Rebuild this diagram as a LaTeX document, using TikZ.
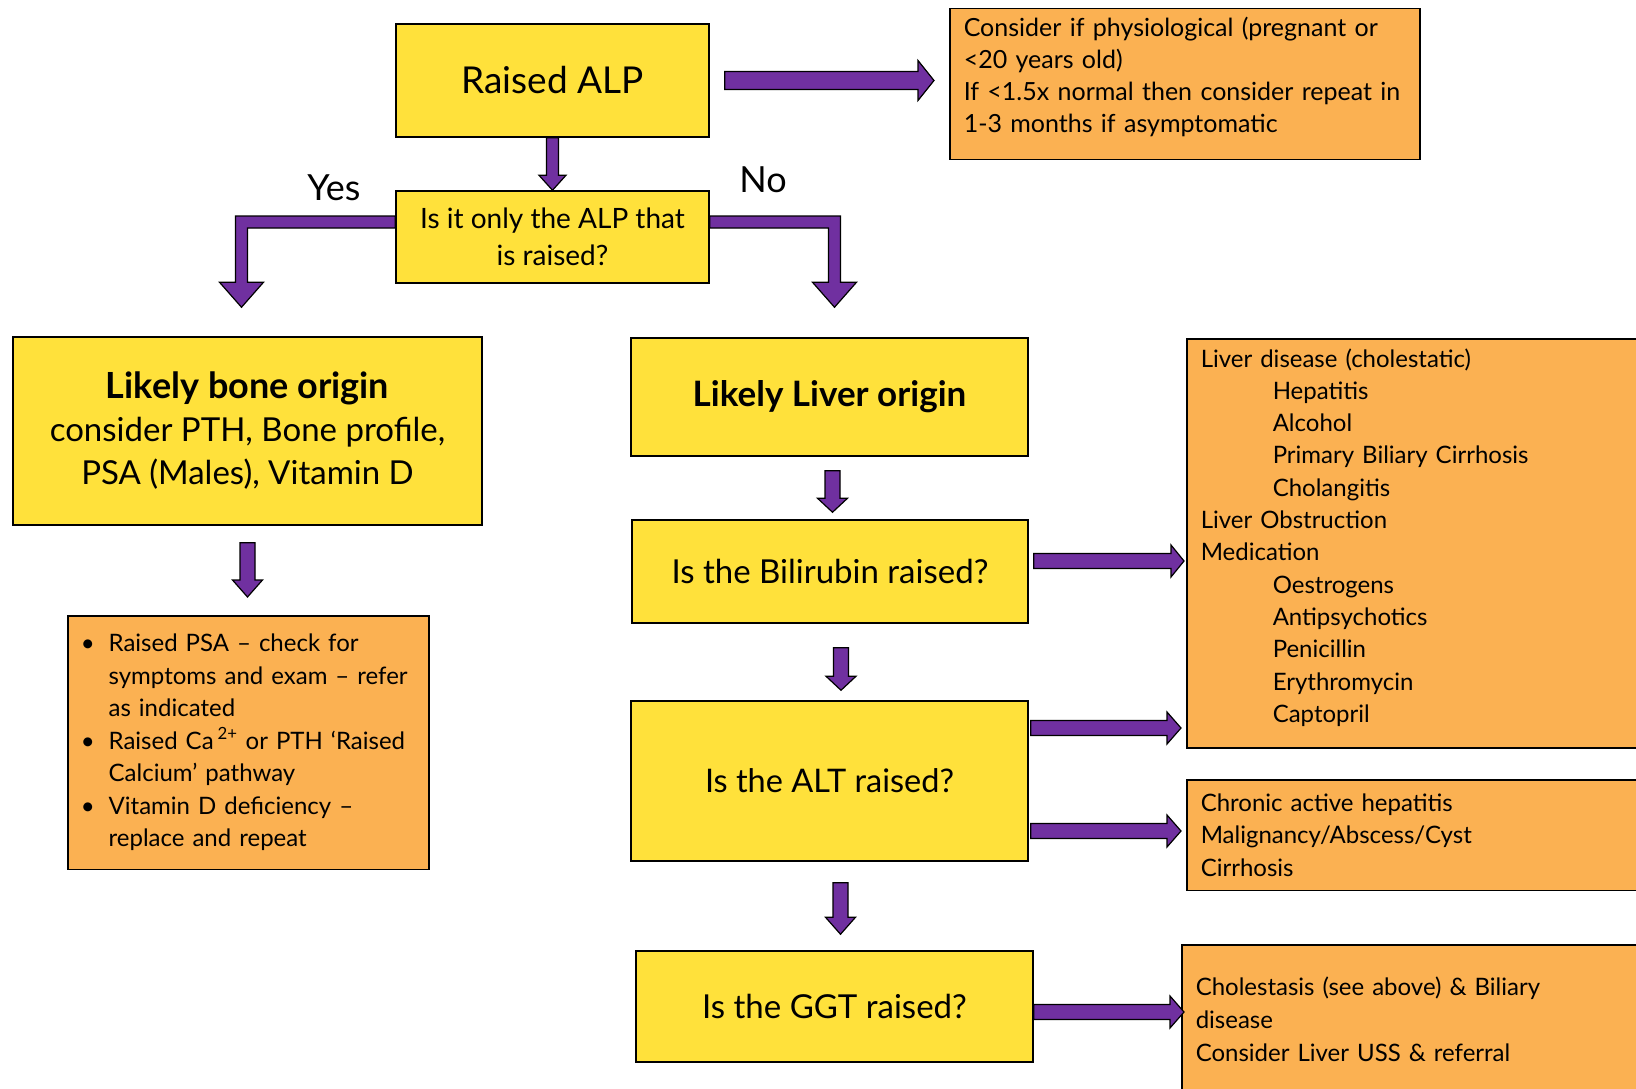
\documentclass[tikz,border=0pt]{standalone}
\usepackage{fontspec}
\setmainfont{Lato}
\usetikzlibrary{calc}
\usetikzlibrary{positioning}

\definecolor{boxyellow}{HTML}{FFE13B}
\definecolor{boxorange}{HTML}{FBB152}
\definecolor{arrowpurple}{HTML}{7030A0}

\tikzset{
    stepbox/.style={draw=black, line width=1.5pt, fill=boxyellow, align=center, inner sep=0pt},
    notebox/.style={draw=black, line width=1.5pt, fill=boxorange, align=left, anchor=north west, inner sep=14pt},
    blockarrow/.style={draw=black, line width=1.2pt, fill=arrowpurple, line join=miter},
}

% Block arrows: start, tip, half shaft, half head, head length
\newcommand{\rarrow}[5]{%
    \draw[blockarrow] let \p1=(#1), \p2=(#2) in
        (\x1,\y1+#3) -- (\x2-#5,\y1+#3) -- (\x2-#5,\y1+#4) -- (\x2,\y1)
        -- (\x2-#5,\y1-#4) -- (\x2-#5,\y1-#3) -- (\x1,\y1-#3) -- cycle;}
\newcommand{\darrow}[5]{%
    \draw[blockarrow] let \p1=(#1), \p2=(#2) in
        (\x1-#3,\y1) -- (\x1-#3,\y2+#5) -- (\x1-#4,\y2+#5) -- (\x1,\y2)
        -- (\x1+#4,\y2+#5) -- (\x1+#3,\y2+#5) -- (\x1+#3,\y1) -- cycle;}
% Elbow arrow: start, tip, side (-1 left, 1 right)
\newcommand{\earrow}[3]{%
    \draw[blockarrow] let \p1=(#1), \p2=(#2) in
        (\x1,\y1+6pt) -- ({\x2+(#3)*6pt},\y1+6pt) -- ({\x2+(#3)*6pt},\y2+25pt)
        -- ({\x2+(#3)*22pt},\y2+25pt) -- (\x2,\y2) -- ({\x2-(#3)*22pt},\y2+25pt)
        -- ({\x2-(#3)*6pt},\y2+25pt) -- ({\x2-(#3)*6pt},\y1-6pt) -- (\x1,\y1-6pt) -- cycle;}

\begin{document}
\begin{tikzpicture}[x=1pt, y=-1pt]
    \useasboundingbox (0,0) rectangle (1636,1089);
    \clip (0,0) rectangle (1636,1089);

    % Top
    \node[stepbox, minimum width=313pt, minimum height=113pt, font=\fontsize{37}{44}\selectfont]
        (alp) at (552.5,80.5) {Raised ALP};
    \node[notebox, inner ysep=4pt, minimum width=470pt, minimum height=151pt, text width=442pt, text depth=114pt,
        font=\fontsize{25}{32}\selectfont]
        (phys) at (949,8) {Consider if physiological (pregnant or\\
        <20 years old)\\
        If <1.5x normal then consider repeat in\\
        1-3 months if asymptomatic};
    \node[stepbox, minimum width=313pt, minimum height=92pt, font=\fontsize{28}{37}\selectfont]
        (only) at (552.5,237) {Is it only the ALP that\\is raised?};
    \node[font=\fontsize{36}{40}\selectfont] (yes) at (334,188) {Yes};
    \node[font=\fontsize{36}{40}\selectfont] (no) at (763,180) {No};

    % Bone side
    \node[stepbox, minimum width=469pt, minimum height=188pt, font=\fontsize{33}{43}\selectfont]
        (bone) at (247.5,431) {{\fontsize{36}{43}\selectfont\bfseries Likely bone origin}\\
        consider PTH, Bone profile,\\
        PSA (Males), Vitamin D};
    \node[notebox, inner sep=13pt, minimum width=361pt, minimum height=246pt, text width=335pt,
        font=\fontsize{24}{32.5}\selectfont] (bonelist) at (67,615) {%
        \begin{tabular}{@{}l@{\hspace{14pt}}l@{}}
            \textbullet & Raised PSA – check for\\
                        & symptoms and exam – refer\\
                        & as indicated\\
            \textbullet & Raised Ca\,\textsuperscript{2+} or PTH ‘Raised\\
                        & Calcium’ pathway\\
            \textbullet & Vitamin D deficiency –\\
                        & replace and repeat
        \end{tabular}};

    % Liver side
    \node[stepbox, minimum width=397pt, minimum height=118pt, font=\fontsize{35}{40}\selectfont\bfseries]
        (liver) at (829.5,397) {Likely Liver origin};
    \node[stepbox, minimum width=396pt, minimum height=103pt, font=\fontsize{33}{38}\selectfont]
        (bili) at (830,571.5) {Is the Bilirubin raised?};
    \node[stepbox, minimum width=397pt, minimum height=160pt, font=\fontsize{32.5}{38}\selectfont]
        (alt) at (829.5,781) {Is the ALT raised?};
    \node[stepbox, minimum width=397pt, minimum height=111pt, font=\fontsize{33}{38}\selectfont]
        (ggt) at (834.5,1006.5) {Is the GGT raised?};

    % Causes
    \node[notebox, inner ysep=4pt, minimum width=470pt, minimum height=409pt, text width=442pt, text depth=371pt,
        font=\fontsize{24}{32.3}\selectfont]
        (cholestatic) at (1186,338) {Liver disease (cholestatic)\\
        \hspace*{72pt}Hepatitis\\
        \hspace*{72pt}Alcohol\\
        \hspace*{72pt}Primary Biliary Cirrhosis\\
        \hspace*{72pt}Cholangitis\\
        Liver Obstruction\\
        Medication\\
        \hspace*{72pt}Oestrogens\\
        \hspace*{72pt}Antipsychotics\\
        \hspace*{72pt}Penicillin\\
        \hspace*{72pt}Erythromycin\\
        \hspace*{72pt}Captopril};
    \node[notebox, minimum width=470pt, minimum height=110pt, text width=442pt, font=\fontsize{24}{32.5}\selectfont]
        (hepatic) at (1186,779) {Chronic active hepatitis\\
        Malignancy/Abscess/Cyst\\
        Cirrhosis};
    \node[notebox, minimum width=475pt, minimum height=150pt, text width=447pt, font=\fontsize{24}{33}\selectfont]
        (biliary) at (1181,944) {Cholestasis (see above) \& Biliary\\
        disease\\
        Consider Liver USS \& referral};

    % Arrows
    \rarrow{[xshift=15pt]alp.east}{[xshift=-15pt]phys.west}{9pt}{20pt}{16pt}
    \darrow{alp.south}{only.north}{6pt}{13.5pt}{15pt}
    \earrow{[yshift=15pt]only.west}{[xshift=-6pt,yshift=29pt]bone.north}{-1}
    \earrow{[yshift=15pt]only.east}{[xshift=5pt,yshift=30pt]liver.north}{1}
    \darrow{[yshift=-17pt]bone.south}{[yshift=18pt]bonelist.north}{7.5pt}{15pt}{17pt}
    \darrow{[xshift=3pt,yshift=-14pt]liver.south}{[xshift=3pt,yshift=7pt]bili.north}{7.5pt}{15pt}{14pt}
    \darrow{[xshift=11pt,yshift=-24pt]bili.south}{[xshift=11pt,yshift=10pt]alt.north}{7.5pt}{15pt}{14pt}
    \darrow{[xshift=11pt,yshift=-21pt]alt.south}{[xshift=6pt,yshift=16pt]ggt.north}{7.5pt}{15pt}{17pt}
    \rarrow{[xshift=5pt,yshift=10.5pt]bili.east}{[xshift=-2pt]cholestatic.west}{7.5pt}{16pt}{13pt}
    \rarrow{[xshift=2pt,yshift=53pt]alt.east}{[xshift=-5pt]cholestatic.west}{7.5pt}{16pt}{14pt}
    \rarrow{[xshift=2pt,yshift=-50pt]alt.east}{[xshift=-5pt]hepatic.west}{7.5pt}{16pt}{14pt}
    \rarrow{[yshift=-5.5pt]ggt.east}{[xshift=3pt]biliary.west}{7.5pt}{16pt}{14pt}
\end{tikzpicture}
\end{document}
